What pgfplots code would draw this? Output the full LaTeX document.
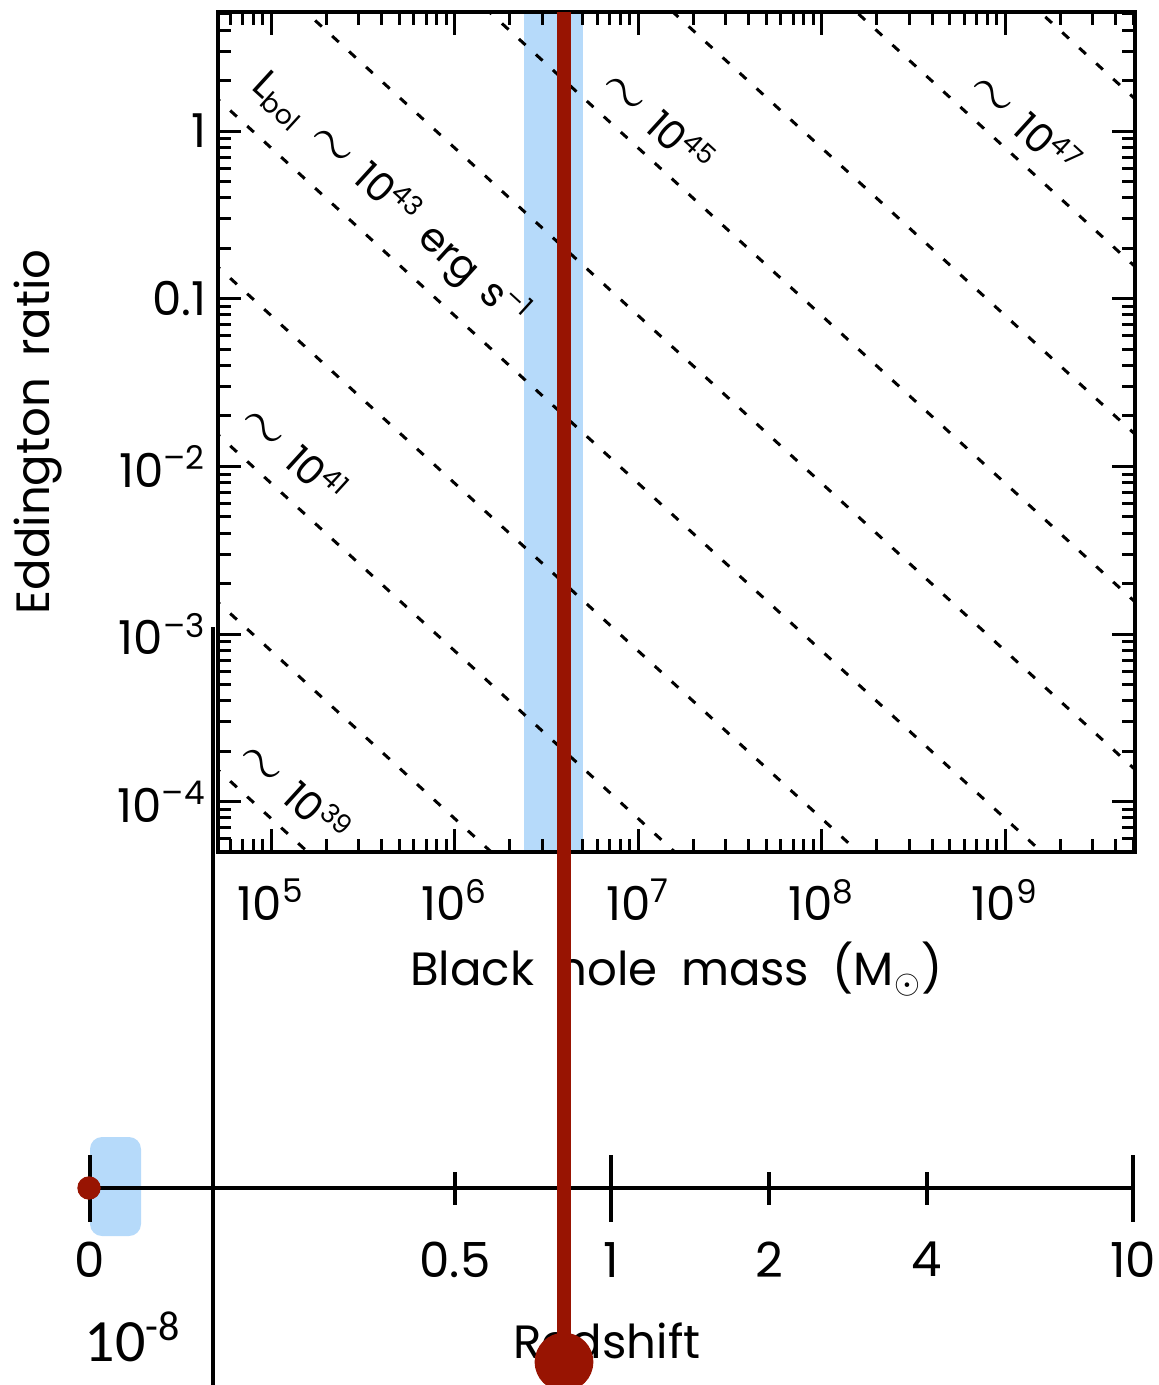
\documentclass[border=0pt]{standalone}
\usepackage{pgfplots}
\pgfplotsset{compat=1.18}
\usepackage{fontspec}
\setmainfont{Poppins}
\newfontfamily\carlito{Carlito}
\definecolor{bandblue}{RGB}{182,218,250}
\definecolor{darkred}{RGB}{152,20,2}
\newcommand{\tld}{{\fontsize{16}{16}\selectfont$\sim$}}

\begin{document}
\begin{tikzpicture}
% ---------- background overlay (pixel coordinates of the reference) ----------
\begin{axis}[at={(-65.4pt,-159.9pt)}, anchor=south west, scale only axis,
  width=347.7pt, height=415.5pt, xmin=0, xmax=1159, ymin=0, ymax=1385,
  y dir=reverse, axis lines=none, clip=false]
\addplot[fill=bandblue, draw=none, rounded corners=3.6pt]
  coordinates {(90,1137) (141,1137) (141,1236) (90,1236)} -- cycle;
\end{axis}

% ---------- main log-log panel ----------
\begin{axis}[at={(0pt,0pt)}, anchor=south west, scale only axis,
  width=275.1pt, height=252pt,
  xmode=log, ymode=log, log basis x=10, log basis y=10,
  xmin=51404, xmax=5.105e9, ymin=5.01e-5, ymax=5.13,
  xtick={1e5,1e6,1e7,1e8,1e9},
  xticklabels={10\textsuperscript{5},10\textsuperscript{6},10\textsuperscript{7},10\textsuperscript{8},10\textsuperscript{9}},
  minor xtick={6e4,7e4,8e4,9e4,2e5,3e5,4e5,5e5,6e5,7e5,8e5,9e5,2e6,3e6,4e6,5e6,6e6,7e6,8e6,9e6,2e7,3e7,4e7,5e7,6e7,7e7,8e7,9e7,2e8,3e8,4e8,5e8,6e8,7e8,8e8,9e8,2e9,3e9,4e9,5e9},
  ytick={1e-4,1e-3,1e-2,0.1,1},
  yticklabels={10\textsuperscript{\textendash 4},10\textsuperscript{\textendash 3},10\textsuperscript{\textendash 2},0.1,1},
  minor ytick={6e-5,7e-5,8e-5,9e-5,2e-4,3e-4,4e-4,5e-4,6e-4,7e-4,8e-4,9e-4,2e-3,3e-3,4e-3,5e-3,6e-3,7e-3,8e-3,9e-3,2e-2,3e-2,4e-2,5e-2,6e-2,7e-2,8e-2,9e-2,0.2,0.3,0.4,0.5,0.6,0.7,0.8,0.9,2,3,4,5},
  tick align=inside, major tick length=7pt, minor tick length=3.9pt,
  every tick/.style={black, line width=0.9pt},
  axis line style={line width=1.1pt},
  axis on top,
  tick label style={font=\fontsize{14}{16}\selectfont},
  xticklabel style={yshift=-4.6pt},
  xlabel={Black\hspace{0.5em}hole\hspace{0.5em}mass\hspace{0.5em}(M\textsubscript{$\odot$})},
  ylabel={Eddington\hspace{0.45em}ratio},
  every axis x label/.style={at={(rel axis cs:0.5,0)}, yshift=-35.1pt, anchor=center, font=\fontsize{14}{16}\selectfont},
  every axis y label/.style={at={(rel axis cs:0,0.5)}, xshift=-54pt, rotate=90, anchor=center, font=\fontsize{14}{16}\selectfont},
]
% observed mass band
\addplot[fill=bandblue, draw=none]
  coordinates {(2.4e6,1e-6) (5.0e6,1e-6) (5.0e6,100) (2.4e6,100)} -- cycle;
% lines of constant bolometric luminosity, L = 1.26e38 * lambda * M
\addplot[black, line width=0.9pt, dash pattern=on 2.7pt off 4.2pt] coordinates {(31622.8,2.512e-4) (1e10,7.943e-10)};
\addplot[black, line width=0.9pt, dash pattern=on 2.7pt off 4.2pt] coordinates {(31622.8,2.512e-3) (1e10,7.943e-9)};
\addplot[black, line width=0.9pt, dash pattern=on 2.7pt off 4.2pt] coordinates {(31622.8,2.512e-2) (1e10,7.943e-8)};
\addplot[black, line width=0.9pt, dash pattern=on 2.7pt off 4.2pt] coordinates {(31622.8,0.2512) (1e10,7.943e-7)};
\addplot[black, line width=0.9pt, dash pattern=on 2.7pt off 4.2pt] coordinates {(31622.8,2.512) (1e10,7.943e-6)};
\addplot[black, line width=0.9pt, dash pattern=on 2.7pt off 4.2pt] coordinates {(31622.8,25.12) (1e10,7.943e-5)};
\addplot[black, line width=0.9pt, dash pattern=on 2.7pt off 4.2pt] coordinates {(31622.8,251.2) (1e10,7.943e-4)};
\addplot[black, line width=0.9pt, dash pattern=on 2.7pt off 4.2pt] coordinates {(31622.8,2512) (1e10,7.943e-3)};
\addplot[black, line width=0.9pt, dash pattern=on 2.7pt off 4.2pt] coordinates {(31622.8,25119) (1e10,7.943e-2)};
\addplot[black, line width=0.9pt, dash pattern=on 2.7pt off 4.2pt] coordinates {(31622.8,251189) (1e10,0.7943)};
% labels of the lines
\begin{scope}[every node/.style={rotate=-42.4, font=\fontsize{12}{14}\selectfont, inner sep=0pt}]
\node at (axis cs:444600,0.387) {L\textsubscript{bol}\hspace{0.4em}\tld\hspace{0.4em}10\textsuperscript{43}\hspace{0.4em}erg\hspace{0.4em}s\textsuperscript{\textendash 1}};
\node at (axis cs:1.30e7,1.15) {\tld\hspace{0.4em}10\textsuperscript{45}};
\node at (axis cs:1.30e9,1.12) {\tld\hspace{0.4em}10\textsuperscript{47}};
\node at (axis cs:1.35e5,1.2e-2) {\tld\hspace{0.4em}10\textsuperscript{41}};
\node at (axis cs:1.37e5,1.15e-4) {\tld\hspace{0.4em}10\textsuperscript{39}};
\end{scope}
\end{axis}

% ---------- redshift axis ----------
\begin{axis}[at={(-38.4pt,-100.8pt)}, anchor=south west, scale only axis,
  width=312.9pt, height=10pt, xmin=90, xmax=1133, ymin=0, ymax=1,
  axis x line*=bottom, axis y line=none, clip=false,
  xtick={90,611,1133}, xticklabels={0,1,10},
  extra x ticks={455,769,927}, extra x tick labels={0.5,2,4},
  tick align=center, major tick length=20.1pt,
  every tick/.style={black, line width=1.1pt},
  axis line style={line width=1.1pt},
  tick label style={font=\fontsize{14.5}{16}\selectfont},
  xticklabel style={yshift=-2.7pt},
  extra x tick style={major tick length=9.9pt, xticklabel style={yshift=-5.1pt}},
  xlabel={Redshift},
  every axis x label/.style={at={(rel axis cs:0.5,0)}, xshift=-1.35pt, yshift=-45.9pt, anchor=center, font=\fontsize{14}{16}\selectfont},
]
\end{axis}

% ---------- foreground overlay (pixel coordinates of the reference) ----------
\begin{axis}[at={(-65.4pt,-159.9pt)}, anchor=south west, scale only axis,
  width=347.7pt, height=415.5pt, xmin=0, xmax=1159, ymin=0, ymax=1385,
  y dir=reverse, axis lines=none, clip=false]
\addplot[black, line width=1.2pt] coordinates {(213.5,627) (213.5,1385)};
\addplot[darkred, line width=4.2pt] coordinates {(564,12) (564,1362)};
\addplot[only marks, mark=*, mark size=8.6pt, darkred] coordinates {(564,1362)};
\addplot[only marks, mark=*, mark size=3.3pt, darkred] coordinates {(89,1188)};
\node[font=\carlito\fontsize{18}{20}\selectfont, anchor=base west, inner sep=0pt]
  at (axis cs:84,1361) {10\textsuperscript{-8}};
\end{axis}

\pgfresetboundingbox
\path[use as bounding box] (-65.4pt,-159.9pt) rectangle (282.3pt,255.6pt);
\end{tikzpicture}
\end{document}
